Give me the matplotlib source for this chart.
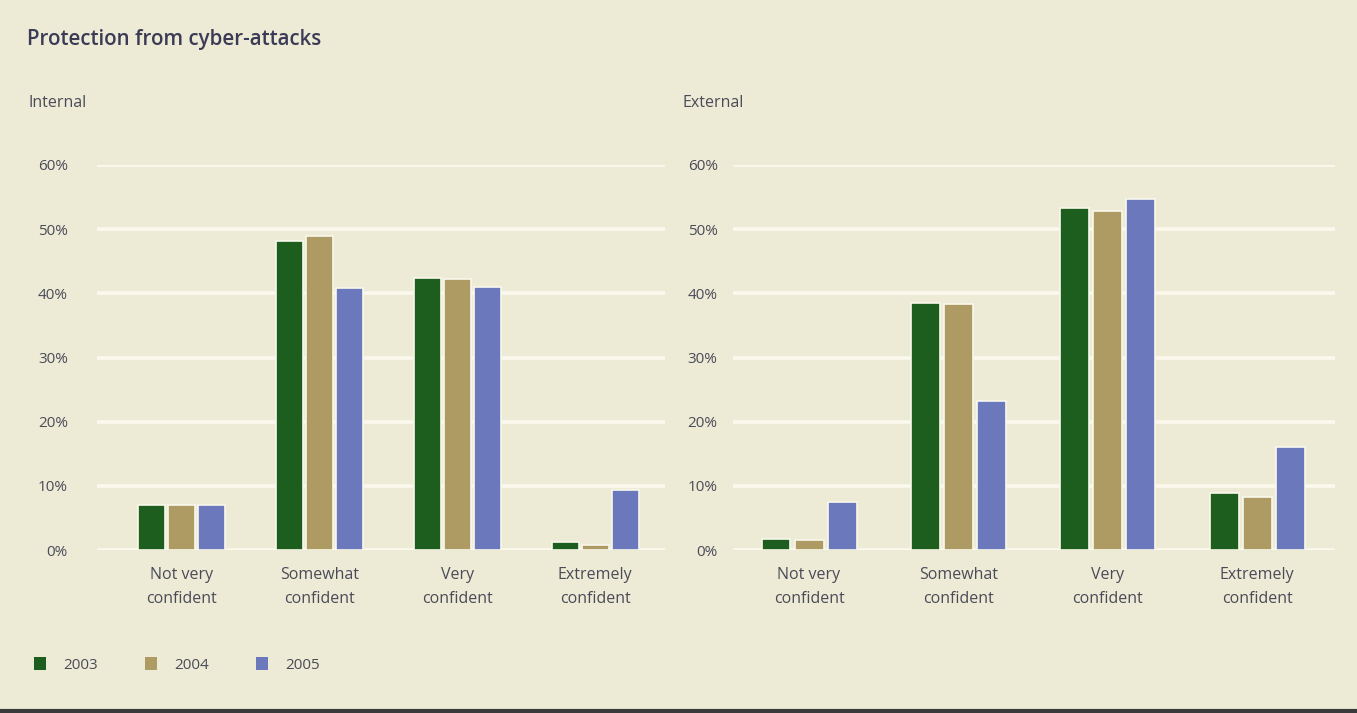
import numpy as np
import matplotlib.pyplot as plt
from matplotlib.patches import Patch

categories = ["Not very\nconfident", "Somewhat\nconfident", "Very\nconfident", "Extremely\nconfident"]
years = ["2003", "2004", "2005"]

# percent of respondents, internal attacks
internal_2003 = [7.0, 48.2, 42.4, 1.3]
internal_2004 = [7.0, 49.0, 42.3, 0.8]
internal_2005 = [7.0, 40.8, 41.0, 9.3]

# percent of respondents, external attacks
external_2003 = [1.7, 38.5, 53.3, 8.9]
external_2004 = [1.6, 38.3, 52.8, 8.3]
external_2005 = [7.5, 23.2, 54.7, 16.0]

yticks = [0, 10, 20, 30, 40, 50, 60]

bg = "#EDEBD6"
colors = ["#1D5E1F", "#AE9B63", "#6C78BC"]
txt = "#4B4B58"

plt.rcParams["font.family"] = ["Open Sans", "DejaVu Sans"]

fig = plt.figure(figsize=(13.57, 7.13), dpi=100, facecolor=bg)

ax1 = fig.add_axes([97 / 1357, 1 - 550 / 713, 568 / 1357, 385 / 713])
ax2 = fig.add_axes([733 / 1357, 1 - 550 / 713, 602 / 1357, 385 / 713])


def draw_panel(ax, series, xlim, pad, width, step):
    x = np.arange(len(categories))
    ax.set_facecolor(bg)
    for i, vals in enumerate(series):
        ax.bar(x + (i - 1) * step, vals, width=width, color=colors[i],
               edgecolor="#F8F8EC", linewidth=1.2, zorder=3)
    ax.set_xlim(*xlim)
    ax.set_ylim(0, 60)
    ax.set_yticks(yticks)
    ax.set_yticklabels([f"{v}%" for v in yticks])
    ax.set_xticks(x)
    ax.set_xticklabels(categories, linespacing=1.7)
    ax.yaxis.grid(True, color="#FBF9EE", linewidth=2.6, zorder=0)
    ax.set_axisbelow(True)
    for s in ax.spines.values():
        s.set_visible(False)
    ax.tick_params(axis="y", length=0, pad=pad, labelsize=11, labelcolor=txt)
    ax.tick_params(axis="x", length=0, pad=12, labelsize=11.5, labelcolor=txt)


draw_panel(ax1, [internal_2003, internal_2004, internal_2005], (-0.617, 3.508), 21, 0.196, 0.218)
draw_panel(ax2, [external_2003, external_2004, external_2005], (-0.509, 3.522), 11, 0.194, 0.221)

fig.text(27 / 1357, 1 - 40 / 713, "Protection from cyber-attacks", fontsize=14.8,
         fontweight="semibold", color="#3B3B55", va="center")
fig.text(28 / 1357, 1 - 103 / 713, "Internal", fontsize=11.5, color=txt, va="center")
fig.text(683 / 1357, 1 - 103 / 713, "External", fontsize=11.5, color=txt, va="center")

handles = [Patch(facecolor=c, edgecolor="none") for c in colors]
fig.legend(handles, years, loc="center left", bbox_to_anchor=(20 / 1357, 1 - 665 / 713),
           ncol=3, frameon=False, handlelength=0.8, handleheight=0.9,
           columnspacing=3.1, handletextpad=1.1, fontsize=11, labelcolor=txt)

# dark rule along the bottom edge
fig.add_artist(plt.Line2D([0, 1], [2 / 713, 2 / 713], color="#3A3A3A", linewidth=3))

plt.savefig("out.png", dpi=100, facecolor=bg)
